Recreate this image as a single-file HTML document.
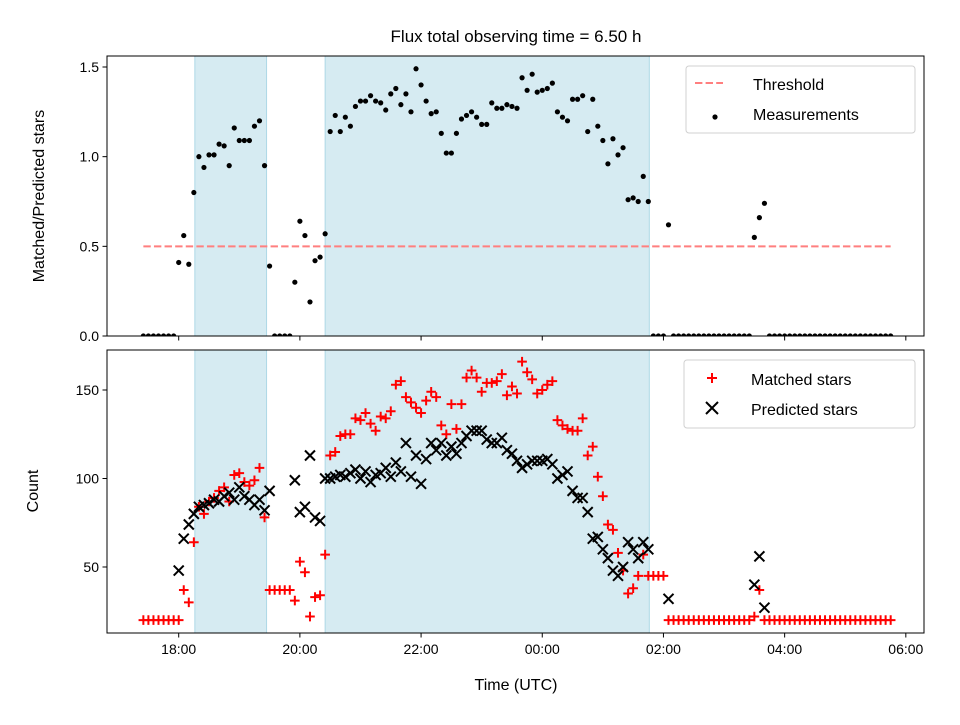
<!DOCTYPE html>
<html><head><meta charset="utf-8"><style>
body{margin:0;background:#fff;}
svg{font-family:"Liberation Sans","DejaVu Sans",sans-serif;}
</style></head><body>
<svg id="chart" width="960" height="720" viewBox="0 0 960 720">
<defs>
<clipPath id="clipTop"><rect x="107" y="56" width="817" height="280"/></clipPath>
<clipPath id="clipBot"><rect x="107" y="350" width="817" height="283"/></clipPath>
</defs>
<rect width="960" height="720" fill="#fff"/>
<text x="516" y="42" text-anchor="middle" font-size="17">Flux total observing time = 6.50 h</text>
<g id="top" clip-path="url(#clipTop)"></g>
<g id="bot" clip-path="url(#clipBot)"></g>
<g id="axes"></g>
</svg>
<script>
// minutes relative to 18:00 UTC, 5-minute cadence starting at -35
const startMinute = -35;
const stepMinutes = 5;
const ratio = [0,0,0,0,0,0,0,
0.41,0.56,0.40,0.80,1.00,0.94,1.01,1.01,1.07,1.06,0.95,1.16,1.09,1.09,1.09,1.17,1.20,0.95,0.39,
0,0,0,0,
0.30,0.64,0.56,0.19,0.42,0.44,0.57,
1.14,1.23,1.14,1.22,1.17,1.28,1.31,1.31,1.34,1.31,1.30,1.26,1.35,1.38,1.29,1.35,1.25,1.49,1.40,1.31,1.24,1.25,1.13,1.02,1.02,1.13,1.21,1.23,1.25,1.22,1.18,1.18,1.30,1.27,1.27,1.29,1.28,1.27,1.44,1.37,1.46,1.36,1.37,1.38,1.41,1.25,1.22,1.20,1.32,1.32,1.34,1.14,1.32,1.17,1.09,0.96,1.10,1.01,1.05,0.76,0.77,0.75,0.89,0.75,
0,0,0,0.62,
0,0,0,0,0,0,0,0,0,0,0,0,0,0,0,0,
0.55,0.66,0.74,
0,0,0,0,0,0,0,0,0,0,0,0,0,0,0,0,0,0,0,0,0,0,0,0,0];
const matched = [20,20,20,20,20,20,20,
20,37,30,64,84,80,87,89,93,95,87,102,103,98,96,99,106,78,37,
37,37,37,37,
31,53,47,22,33,34,57,
113,115,124,125,125,134,133,137,131,127,135,134,138,153,155,146,143,140,137,144,149,146,130,125,142,128,142,157,161,157,149,154,154,155,159,147,152,148,166,160,156,148,150,153,155,133,130,128,127,127,134,113,118,101,90,74,71,58,48,35,38,45,57,45,
45,45,45,20,
20,20,20,20,20,20,20,20,20,20,20,20,20,20,20,20,
22,37,20,
20,20,20,20,20,20,20,20,20,20,20,20,20,20,20,20,20,20,20,20,20,20,20,20,20];
const predicted = [0,0,0,0,0,0,0,
48,66,74,80,84,85,86,88,87,90,92,88,95,90,88,85,88,82,93,
0,0,0,0,
99,81,84,113,78,76,100,
100,101,102,101,103,105,100,104,98,102,103,106,101,109,104,120,101,113,97,111,120,116,120,113,118,114,120,124,127,127,127,122,120,120,123,116,114,110,106,108,110,110,110,111,108,100,102,104,93,89,89,81,66,67,60,55,48,45,50,64,60,55,64,60,
0,0,0,32,
0,0,0,0,0,0,0,0,0,0,0,0,0,0,0,0,
40,56,27,
0,0,0,0,0,0,0,0,0,0,0,0,0,0,0,0,0,0,0,0,0,0,0,0,0];
const xTickMinutes = [0,120,240,360,480,600,720];
const xTickLabels = ["18:00","20:00","22:00","00:00","02:00","04:00","06:00"];
const topTicks = [0,0.5,1.0,1.5];
const topTickLabels = ["0.0","0.5","1.0","1.5"];
const botTicks = [50,100,150];
const shadeRanges = [[16,87],[145,466]];
const thresholdValue = 0.5;
const thresholdRange = [-35,705];

const NS="http://www.w3.org/2000/svg";
const L=107,R=924,TT=56,TB=336,BT=350,BB=633;
const xMin=-71,xMax=738;
function X(m){return L+(m-xMin)/(xMax-xMin)*(R-L);}
function YT(v){return TB-(v-0)/(1.5613)*(TB-TT);}
function YB(v){return BB-(v-12.7)/(172.6-12.7)*(BB-BT);}
function mk(tag,at,parent){const e=document.createElementNS(NS,tag);for(const k in at)e.setAttribute(k,at[k]);parent.appendChild(e);return e;}
const gT=document.getElementById('top'),gB=document.getElementById('bot'),gA=document.getElementById('axes');

shadeRanges.forEach(r=>{
  [[gT,TT,TB],[gB,BT,BB]].forEach(([g,a,b])=>{
    const e=mk('rect',{x:X(r[0]),y:a,width:X(r[1])-X(r[0]),height:b-a,fill:'#add8e6','fill-opacity':0.5,stroke:'#add8e6','stroke-width':1},g);
    
    
  });
});
const th=mk('line',{x1:X(thresholdRange[0]),x2:X(thresholdRange[1]),y1:YT(thresholdValue),y2:YT(thresholdValue),stroke:'#ff7f7f','stroke-width':2,'stroke-dasharray':'7.4,3.2'},gT);



ratio.forEach((v,i)=>{
  const m=startMinute+i*stepMinutes;
  const c=mk('circle',{cx:X(m),cy:YT(v),r:2.6,fill:'#000'},gT);
  
  
});
matched.forEach((v,i)=>{
  const m=startMinute+i*stepMinutes,x=X(m),y=YB(v),s=4.8;
  const p=mk('path',{d:`M${x-s},${y}H${x+s}M${x},${y-s}V${y+s}`,stroke:'#ff0000','stroke-width':2,fill:'none'},gB);
  
  
});
predicted.forEach((v,i)=>{
  const m=startMinute+i*stepMinutes,x=X(m),y=YB(v),s=5;
  const p=mk('path',{d:`M${x-s},${y-s}L${x+s},${y+s}M${x-s},${y+s}L${x+s},${y-s}`,stroke:'#000','stroke-width':2,fill:'none'},gB);
  
  
});

[[TT,TB,'top-axes-frame'],[BT,BB,'bottom-axes-frame']].forEach(([a,b,n])=>{
  const f=mk('rect',{x:L,y:a,width:R-L,height:b-a,fill:'none',stroke:'#000','stroke-width':1},gA);
  
  
});
xTickMinutes.forEach((m,i)=>{
  const x=X(m);
  mk('line',{x1:x,x2:x,y1:TB,y2:TB+4.5,stroke:'#000'},gA);
  mk('line',{x1:x,x2:x,y1:BB,y2:BB+4.5,stroke:'#000'},gA);
  const t=mk('text',{x:x,y:BB+21,'text-anchor':'middle','font-size':14},gA);
  t.textContent=xTickLabels[i];
  
  
});
topTicks.forEach((v,i)=>{
  const y=YT(v);
  mk('line',{x1:L-4.5,x2:L,y1:y,y2:y,stroke:'#000'},gA);
  const t=mk('text',{x:L-8,y:y+5,'text-anchor':'end','font-size':14},gA);
  t.textContent=topTickLabels[i];
  
  
});
botTicks.forEach(v=>{
  const y=YB(v);
  mk('line',{x1:L-4.5,x2:L,y1:y,y2:y,stroke:'#000'},gA);
  const t=mk('text',{x:L-8,y:y+5,'text-anchor':'end','font-size':14},gA);
  t.textContent=String(v);
  
  
});
</script>
<svg width="960" height="720" style="position:absolute;left:0;top:0">
<g font-family="Liberation Sans, DejaVu Sans, sans-serif" font-size="14">
<text x="516" y="690" text-anchor="middle" font-size="16">Time (UTC)</text>
<text transform="translate(44,196) rotate(-90)" text-anchor="middle" font-size="16">Matched/Predicted stars</text>
<text transform="translate(38,491) rotate(-90)" text-anchor="middle" font-size="16">Count</text>
<g>
<rect x="686" y="66" width="229" height="67" rx="3" fill="#fff" fill-opacity="0.85" stroke="#d0d0d0"/>
<line x1="695" x2="723" y1="83" y2="83" stroke="#ff7f7f" stroke-width="2" stroke-dasharray="7.4,3.2"/>
<text x="753" y="90" font-size="16">Threshold</text>
<circle cx="715" cy="117" r="2.6" fill="#000"/>
<text x="753" y="120" font-size="16">Measurements</text>
</g>
<g>
<rect x="684" y="360" width="231" height="68" rx="3" fill="#fff" fill-opacity="0.85" stroke="#d0d0d0"/>
<path d="M707,378H717M712,373V383" stroke="#f00" stroke-width="2"/>
<text x="751" y="385" font-size="16">Matched stars</text>
<path d="M706,402L718,414M706,414L718,402" stroke="#000" stroke-width="2"/>
<text x="751" y="415" font-size="16">Predicted stars</text>
</g>
</g>
</svg>
</body></html>
